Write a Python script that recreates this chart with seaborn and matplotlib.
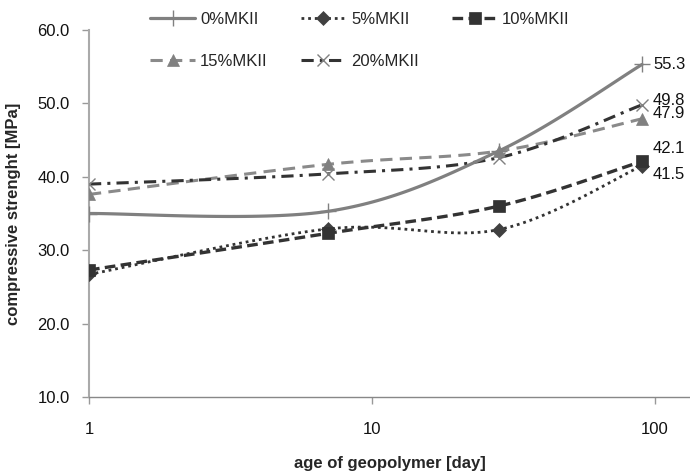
import numpy as np
import pandas as pd
import matplotlib
matplotlib.use("Agg")
import matplotlib.pyplot as plt
from matplotlib.lines import Line2D
import seaborn as sns

# ---- data ----
days = [1, 7, 28, 90]
series_names = ["0%MKII", "5%MKII", "10%MKII", "15%MKII", "20%MKII"]
mk0 = [35.0, 35.3, 43.5, 55.3]
mk5 = [26.7, 32.9, 32.8, 41.5]
mk10 = [27.3, 32.3, 36.0, 42.1]
mk15 = [37.6, 41.7, 43.5, 47.9]
mk20 = [39.0, 40.4, 42.6, 49.8]
y_ticks = [10.0, 20.0, 30.0, 40.0, 50.0, 60.0]
x_ticks = [1, 10, 100]
x_tick_labels = ["1", "10", "100"]

sns.set_theme(style="white")
plt.rcParams['font.family'] = ['Liberation Sans', 'DejaVu Sans']

fig = plt.figure(figsize=(6.9, 4.71), dpi=100)
ax = fig.add_axes([89/690, 1-397/471, 1-89/690, (397-30)/471])

styles = {
    "0%MKII": dict(color="#808080", ls="-", lw=2.3, marker="+", mc="#808080", ms=11, mew=1.0),
    "5%MKII": dict(color="#333333", ls=(0, (1, 1.4)), lw=2.0, marker="D", mc="#404040", ms=7, mew=0.5),
    "10%MKII": dict(color="#333333", ls=(0, (3.2, 1.6)), lw=2.4, marker="s", mc="#333333", ms=9, mew=0.5),
    "15%MKII": dict(color="#8a8a8a", ls=(0, (4, 2.4)), lw=2.2, marker="^", mc="#808080", ms=9, mew=0.5),
    "20%MKII": dict(color="#333333", ls=(0, (4, 2, 1, 2)), lw=2.2, marker="x", mc="#808080", ms=9, mew=1.0),
}
values = dict(zip(series_names, [mk0, mk5, mk10, mk15, mk20]))


def smooth(xs, ys, n=40):
    """Excel-like smoothed line (Catmull-Rom Bezier) in log-x space."""
    P = np.column_stack([np.log10(xs), ys])
    out = []
    m = len(P)
    for i in range(m - 1):
        p0 = P[i - 1] if i > 0 else P[i]
        p1 = P[i]
        p2 = P[i + 1]
        p3 = P[i + 2] if i + 2 < m else P[i + 1]
        c1 = p1 + (p2 - p0) / 6
        c2 = p2 - (p3 - p1) / 6
        t = np.linspace(0, 1, n)[:, None]
        seg = ((1 - t) ** 3) * p1 + 3 * ((1 - t) ** 2) * t * c1 + 3 * (1 - t) * t ** 2 * c2 + t ** 3 * p2
        out.append(seg if i == 0 else seg[1:])
    c = np.vstack(out)
    return 10 ** c[:, 0], c[:, 1]

order = ["15%MKII", "20%MKII", "0%MKII", "5%MKII", "10%MKII"]
for name in order:
    st = styles[name]
    sx, sy = smooth(days, values[name])
    df = pd.DataFrame({"x": sx, "y": sy})
    sns.lineplot(data=df, x="x", y="y", ax=ax, sort=False, color=st["color"],
                 linewidth=st["lw"], linestyle=st["ls"], legend=False)
    ax.plot(days, values[name], linestyle="none", marker=st["marker"], color=st["mc"],
            markersize=st["ms"], markeredgewidth=st["mew"], markeredgecolor=st["mc"], zorder=5)

# data labels at the last point
label_offsets = {"0%MKII": 0, "20%MKII": 3.5, "15%MKII": 3.5, "10%MKII": 9, "5%MKII": -6}
for name in series_names:
    v = values[name][-1]
    ax.annotate(f"{v:.1f}", xy=(days[-1], v), xytext=(8, label_offsets[name]),
                textcoords="offset points", va="center", ha="left", fontsize=12,
                color="#111111", annotation_clip=False)

ax.set_xscale("log")
ax.set_xlim(1, 133)
ax.set_ylim(10, 60)
ax.set_xticks(x_ticks)
ax.set_xticklabels(x_tick_labels)
ax.xaxis.set_minor_locator(matplotlib.ticker.NullLocator())
ax.set_yticks(y_ticks)
ax.set_yticklabels([f"{t:.1f}" for t in y_ticks])
ax.tick_params(axis="both", labelsize=12, colors="#111111")
ax.tick_params(axis="y", direction="out", length=5, width=1, color="#999999", pad=9, left=True)
ax.tick_params(axis="x", direction="out", length=5, width=1, color="#999999", pad=13, bottom=True)
for s in ["top", "right"]:
    ax.spines[s].set_visible(False)
ax.spines["left"].set_color("#aaaaaa")
ax.spines["left"].set_linewidth(1.5)
ax.spines["bottom"].set_color("#888888")
ax.spines["bottom"].set_linewidth(1.0)
ax.grid(False)
ax.set_facecolor("white")

ax.set_xlabel("age of geopolymer [day]", fontsize=12, fontweight="bold", labelpad=14)
ax.set_ylabel("compressive strenght [MPa]", fontsize=12, fontweight="bold", labelpad=12)

# legend laid out row-wise: row 1 = 0%, 5%, 10%; row 2 = 15%, 20%
legend_order = ["0%MKII", "15%MKII", "5%MKII", "20%MKII", "10%MKII"]
handles = []
for name in legend_order:
    st = styles[name]
    handles.append(Line2D([0], [0], color=st["color"], linestyle=st["ls"], linewidth=st["lw"],
                          marker=st["marker"], markersize=st["ms"], markerfacecolor=st["mc"],
                          markeredgecolor=st["mc"], markeredgewidth=st["mew"]))
fig.legend(handles, legend_order, ncol=3, loc="upper left",
           bbox_to_anchor=(150/690, 1 - 12/471), frameon=False, fontsize=12,
           handlelength=2.7, handletextpad=0.3, columnspacing=2.0, labelspacing=1.6,
           borderpad=0, borderaxespad=0, markerscale=1.0, numpoints=1)

fig.savefig("out.png", dpi=100, facecolor="white")
